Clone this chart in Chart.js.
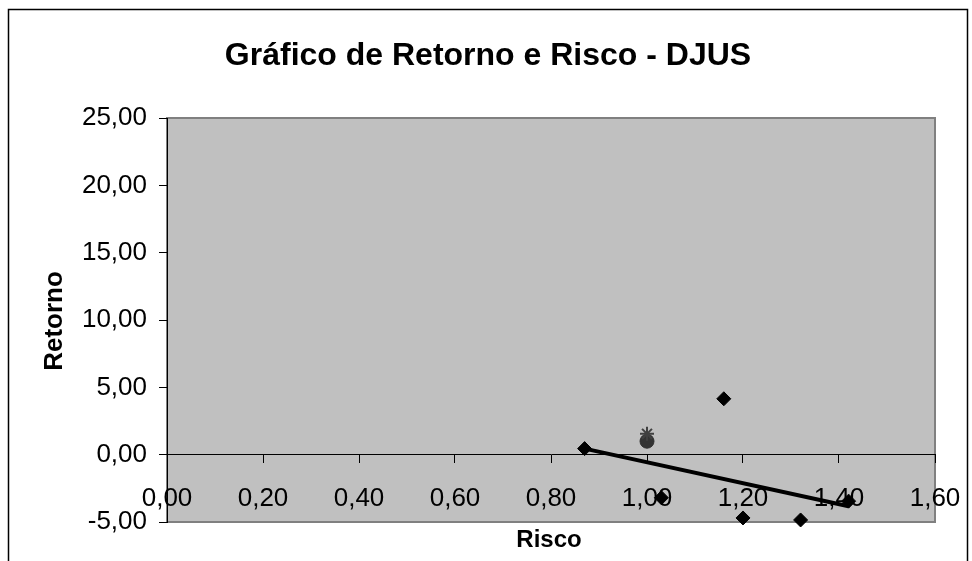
<!DOCTYPE html>
<html>
<head>
<meta charset="utf-8">
<script src="https://cdn.jsdelivr.net/npm/chart.js@4.4.0/dist/chart.umd.min.js"></script>
<style>
  html, body { margin: 0; padding: 0; background: #fff; }
  #wrap { width: 972px; height: 561px; position: relative; }
</style>
</head>
<body>
<div id="wrap"><canvas id="chart" width="972" height="561"></canvas></div>
<script>
// Ativos (losangos)
const riscoAtivos = [0.87, 1.03, 1.16, 1.20, 1.32, 1.42];
const retornoAtivos = [0.45, -3.2, 4.15, -4.7, -4.85, -3.45];
// Mercado (círculo) e ponto X
const riscoMercado = [1.00];
const retornoMercado = [1.0];
const riscoX = [1.00];
const retornoX = [1.55];
// Reta
const riscoReta = [0.87, 1.42];
const retornoReta = [0.45, -3.83];

const FONT = "'Liberation Sans', Arial, sans-serif";

function toPoints(xs, ys) {
    return xs.map((x, i) => ({ x: x, y: ys[i] }));
}

function fmt(v) {
    return Number(v).toFixed(2).replace('.', ',');
}

const frame = {
    id: 'frame',
    beforeDraw(chart) {
        const ctx = chart.ctx;
        const a = chart.chartArea;
        ctx.save();
        // moldura externa
        ctx.strokeStyle = '#000';
        ctx.lineWidth = 1.5;
        ctx.strokeRect(8.5, 9.5, 959, 600);
        // area de plotagem
        ctx.fillStyle = '#c0c0c0';
        ctx.fillRect(a.left, a.top, a.right - a.left, a.bottom - a.top);
        ctx.strokeStyle = '#808080';
        ctx.lineWidth = 2;
        ctx.strokeRect(a.left, a.top, a.right - a.left, a.bottom - a.top);
        // titulos
        ctx.fillStyle = '#000';
        ctx.textAlign = 'center';
        ctx.textBaseline = 'alphabetic';
        ctx.font = 'bold 32px ' + FONT;
        ctx.fillText('Gráfico de Retorno e Risco - DJUS', 488, 65);
        ctx.font = 'bold 24px ' + FONT;
        ctx.fillText('Risco', 549, 547);
        ctx.translate(62, 321);
        ctx.rotate(-Math.PI / 2);
        ctx.font = 'bold 26px ' + FONT;
        ctx.fillText('Retorno', 0, 0);
        ctx.restore();
    }
};

new Chart(document.getElementById('chart'), {
    type: 'scatter',
    data: {
        datasets: [
            {
                label: 'Reta',
                data: toPoints(riscoReta, retornoReta),
                showLine: true,
                borderColor: '#000',
                borderWidth: 4,
                pointRadius: 0,
                clip: false
            },
            {
                label: 'Ativos',
                data: toPoints(riscoAtivos, retornoAtivos),
                pointStyle: 'rectRot',
                pointRadius: 7,
                backgroundColor: '#000',
                borderColor: '#000',
                borderWidth: 1,
                clip: false
            },
            {
                label: 'X',
                data: toPoints(riscoX, retornoX),
                pointStyle: 'star',
                pointRadius: 7,
                borderColor: '#404040',
                borderWidth: 2,
                clip: false
            },
            {
                label: 'Mercado',
                data: toPoints(riscoMercado, retornoMercado),
                pointStyle: 'circle',
                pointRadius: 7,
                backgroundColor: '#333',
                borderColor: '#333',
                borderWidth: 1,
                clip: false
            }
        ]
    },
    options: {
        responsive: false,
        animation: false,
        layout: { padding: { top: 118, right: 37, bottom: 39, left: 0 } },
        plugins: {
            legend: { display: false },
            tooltip: { enabled: false }
        },
        scales: {
            x: {
                type: 'linear',
                position: { y: 0 },
                min: 0,
                max: 1.6,
                afterFit(scale) { scale.paddingLeft = 0; scale.paddingRight = 0; },
                grid: { drawOnChartArea: false, tickLength: 8, color: '#000' },
                border: { color: '#000', width: 1 },
                ticks: {
                    stepSize: 0.2,
                    autoSkip: false,
                    maxRotation: 0,
                    padding: 21,
                    color: '#000',
                    font: { family: FONT, size: 26 },
                    callback: v => fmt(v)
                }
            },
            y: {
                type: 'linear',
                position: 'left',
                min: -5,
                max: 25,
                afterFit(scale) { scale.width = 167; },
                grid: { drawOnChartArea: false, tickLength: 8, color: '#000' },
                border: { color: '#000', width: 1 },
                ticks: {
                    stepSize: 5,
                    padding: 12,
                    color: '#000',
                    font: { family: FONT, size: 26 },
                    callback: v => fmt(v)
                }
            }
        }
    },
    plugins: [frame]
});
</script>
</body>
</html>
